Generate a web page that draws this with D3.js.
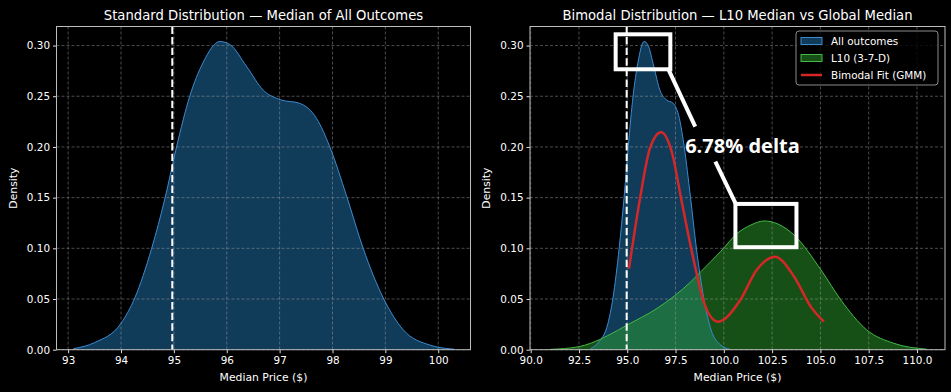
<!DOCTYPE html>
<html>
<head>
<meta charset="utf-8">
<script src="https://cdn.jsdelivr.net/npm/d3@7/dist/d3.min.js"></script>
<style>
	body { margin: 0; background: #000; }
	svg { display: block; font-family: "DejaVu Sans", sans-serif; }
</style>
</head>
<body>
<div id="chart"></div>
<script>

// KDE of all outcomes (median price, density)
var allX = [93.1, 93.5, 94.0, 94.26, 94.58, 94.83, 95.05, 95.3, 95.55, 95.87, 96.06, 96.38, 96.69, 97.02, 97.38, 97.7, 97.95, 98.27, 98.58, 98.96, 99.34, 99.84, 100.3];
var allY = [0.001, 0.007, 0.026, 0.051, 0.100, 0.149, 0.200, 0.250, 0.283, 0.304, 0.301, 0.279, 0.256, 0.2465, 0.243, 0.228, 0.200, 0.151, 0.100, 0.051, 0.0195, 0.0046, 0.0005];

// KDE of L10 (3-7-D)
var l10X = [91.0, 92.5, 93.1, 94.0, 95.0, 96.56, 98.29, 98.81, 99.84, 100.71, 101.4, 102.09, 102.8, 103.64, 105.03, 106.06, 107.4, 108.8, 110.5];
var l10Y = [0.0003, 0.003, 0.0063, 0.014, 0.0244, 0.041, 0.067, 0.077, 0.097, 0.115, 0.123, 0.127, 0.124, 0.113, 0.0787, 0.049, 0.0195, 0.0063, 0.0005];

// bimodal fit (GMM)
var gmmX = [95.09, 95.66, 96.18, 96.75, 97.3, 97.82, 98.42, 99.02, 99.7, 100.85, 101.7, 102.64, 103.64, 104.5, 105.18];
var gmmY = [0.080, 0.149, 0.199, 0.2146, 0.1955, 0.146, 0.090, 0.044, 0.0276, 0.049, 0.0787, 0.0918, 0.072, 0.0425, 0.0276];

var globalMedian = 94.97;

var leftTicks  = [93, 94, 95, 96, 97, 98, 99, 100];
var rightTicks = [90, 92.5, 95, 97.5, 100, 102.5, 105, 107.5, 110];
var yTicks     = [0, 0.05, 0.10, 0.15, 0.20, 0.25, 0.30];

var legendLabels = ["All outcomes", "L10 (3-7-D)", "Bimodal Fit (GMM)"];

// annotation: [x0, x1, y0, y1] in data units
var boxGlobal = [94.40, 97.23, 0.2766, 0.3111];
var boxL10    = [100.60, 103.76, 0.1011, 0.1438];
var leader1   = [97.10, 0.2778, 98.52, 0.2201];
var leader2   = [99.56, 0.1856, 100.60, 0.1445];
var deltaText = "6.78% delta";
var deltaPos  = [98.0, 0.1941];


var W = 951, H = 392;

var svg = d3.select("#chart")
	.append("svg")
	.attr("width", W)
	.attr("height", H)
	.style("background", "#000");

var blueFill  = "#1f77b4",
	blueLine  = "#3b8bd0",
	greenFill = "#2ca02c",
	greenLine = "#45b845",
	red       = "#d62728";

function zip(xs, ys) {
	return xs.map(function(x, i) { return [x, ys[i]]; });
}

function panel(o) {
	var x = d3.scaleLinear().domain(o.xDomain).range([o.left, o.right]);
	var y = d3.scaleLinear().domain([0, 0.3188]).range([o.bottom, o.top]);
	var g = svg.append("g");

	var area = d3.area()
		.curve(d3.curveMonotoneX)
		.x(function(d) { return x(d[0]); })
		.y0(y(0))
		.y1(function(d) { return y(d[1]); });

	var line = d3.line()
		.curve(d3.curveMonotoneX)
		.x(function(d) { return x(d[0]); })
		.y(function(d) { return y(d[1]); });

	var fills = g.append("g");
	var grid  = g.append("g");
	var marks = g.append("g");

	// grid
	grid.selectAll(".gx").data(o.xTicks).enter().append("line")
		.attr("x1", function(d) { return x(d); })
		.attr("x2", function(d) { return x(d); })
		.attr("y1", o.top).attr("y2", o.bottom)
		.attr("stroke", "#a0a0a0").attr("stroke-opacity", 0.6)
		.attr("stroke-width", 0.8).attr("stroke-dasharray", "3,2");
	grid.selectAll(".gy").data(yTicks).enter().append("line")
		.attr("y1", function(d) { return y(d); })
		.attr("y2", function(d) { return y(d); })
		.attr("x1", o.left).attr("x2", o.right)
		.attr("stroke", "#a0a0a0").attr("stroke-opacity", 0.6)
		.attr("stroke-width", 0.8).attr("stroke-dasharray", "3,2");

	// all outcomes
	var all = zip(allX, allY);
	fills.append("path").datum(all)
		.attr("d", area)
		.attr("fill", blueFill).attr("fill-opacity", 0.5);
	marks.append("path").datum(all)
		.attr("d", line)
		.attr("fill", "none").attr("stroke", blueLine).attr("stroke-width", 1);

	if (o.bimodal) {
		var l10 = zip(l10X, l10Y);
		fills.append("path").datum(l10)
			.attr("d", area)
			.attr("fill", greenFill).attr("fill-opacity", 0.5);
		marks.append("path").datum(l10)
			.attr("d", line)
			.attr("fill", "none").attr("stroke", greenLine).attr("stroke-width", 1);
	}

	// global median
	marks.append("line")
		.attr("x1", x(globalMedian)).attr("x2", x(globalMedian))
		.attr("y1", o.top).attr("y2", o.bottom)
		.attr("stroke", "#fff").attr("stroke-width", 2)
		.attr("stroke-dasharray", "7.4,3.2");

	if (o.bimodal) {
		marks.append("path").datum(zip(gmmX, gmmY))
			.attr("d", line)
			.attr("fill", "none").attr("stroke", red).attr("stroke-width", 2.5);

		[boxGlobal, boxL10].forEach(function(b) {
			marks.append("rect")
				.attr("x", x(b[0])).attr("y", y(b[3]))
				.attr("width", x(b[1]) - x(b[0]))
				.attr("height", y(b[2]) - y(b[3]))
				.attr("fill", "none").attr("stroke", "#fff").attr("stroke-width", 4);
		});
		[leader1, leader2].forEach(function(l) {
			marks.append("line")
				.attr("x1", x(l[0])).attr("y1", y(l[1]))
				.attr("x2", x(l[2])).attr("y2", y(l[3]))
				.attr("stroke", "#fff").attr("stroke-width", 4);
		});
		marks.append("text")
			.attr("x", x(deltaPos[0])).attr("y", y(deltaPos[1]))
			.attr("fill", "#fff")
			.style("font-family", "'Open Sans', sans-serif")
			.style("font-weight", 700)
			.style("font-size", "20px")
			.text(deltaText);
	}

	// axes
	var xAxis = d3.axisBottom(x).tickValues(o.xTicks).tickFormat(o.fmt).tickSize(3.5).tickPadding(3);
	var yAxis = d3.axisLeft(y).tickValues(yTicks).tickFormat(d3.format(".2f")).tickSize(3.5).tickPadding(3);

	var gx = g.append("g").attr("transform", "translate(0," + o.bottom + ")").call(xAxis);
	var gy = g.append("g").attr("transform", "translate(" + o.left + ",0)").call(yAxis);
	[gx, gy].forEach(function(a) {
		a.select(".domain").remove();
		a.selectAll(".tick line").attr("stroke", "#ddd");
		a.selectAll(".tick text").attr("fill", "#fff").style("font-size", "10.4px")
			.style("font-family", "'DejaVu Sans', sans-serif");
	});

	g.append("rect")
		.attr("x", o.left).attr("y", o.top)
		.attr("width", o.right - o.left).attr("height", o.bottom - o.top)
		.attr("fill", "none").attr("stroke", "#bdbdbd").attr("stroke-width", 1);

	g.append("text")
		.attr("x", (o.left + o.right) / 2).attr("y", o.top - 7)
		.attr("text-anchor", "middle").attr("fill", "#fff")
		.style("font-size", "13.2px")
		.text(o.title);

	g.append("text")
		.attr("x", (o.left + o.right) / 2).attr("y", 381)
		.attr("text-anchor", "middle").attr("fill", "#fff")
		.style("font-size", "10.8px")
		.text("Median Price ($)");

	g.append("text")
		.attr("transform", "translate(" + (o.left - 40) + "," + ((o.top + o.bottom) / 2) + ") rotate(-90)")
		.attr("text-anchor", "middle").attr("fill", "#fff")
		.style("font-size", "10.8px")
		.text("Density");

	if (o.bimodal) {
		var lg = g.append("g").attr("transform", "translate(" + (o.right - 149) + "," + (o.top + 4.5) + ")");
		lg.append("rect")
			.attr("width", 142).attr("height", 54).attr("rx", 3)
			.attr("fill", "#000").attr("fill-opacity", 0.8)
			.attr("stroke", "#8a8a8a").attr("stroke-width", 1);
		legendLabels.forEach(function(lab, i) {
			var cy = 10 + i * 17;
			if (i < 2) {
				lg.append("rect")
					.attr("x", 5).attr("y", cy - 3.5).attr("width", 21).attr("height", 7)
					.attr("fill", i == 0 ? blueFill : greenFill).attr("fill-opacity", 0.5)
					.attr("stroke", i == 0 ? blueLine : greenLine).attr("stroke-width", 1);
			} else {
				lg.append("line")
					.attr("x1", 5).attr("x2", 26).attr("y1", cy).attr("y2", cy)
					.attr("stroke", red).attr("stroke-width", 2.5);
			}
			lg.append("text")
				.attr("x", 35).attr("y", cy).attr("dy", "0.35em")
				.attr("fill", "#fff").style("font-size", "10.4px")
				.text(lab);
		});
	}
}

panel({
	left: 56.5, right: 470.5, top: 26.5, bottom: 349.7,
	xDomain: [92.78, 100.61], xTicks: leftTicks, fmt: d3.format("d"),
	title: "Standard Distribution \u2014 Median of All Outcomes",
	bimodal: false
});

panel({
	left: 530, right: 945, top: 26.5, bottom: 349.7,
	xDomain: [89.965, 111.45], xTicks: rightTicks, fmt: d3.format(".1f"),
	title: "Bimodal Distribution \u2014 L10 Median vs Global Median",
	bimodal: true
});

</script>
</body>
</html>
